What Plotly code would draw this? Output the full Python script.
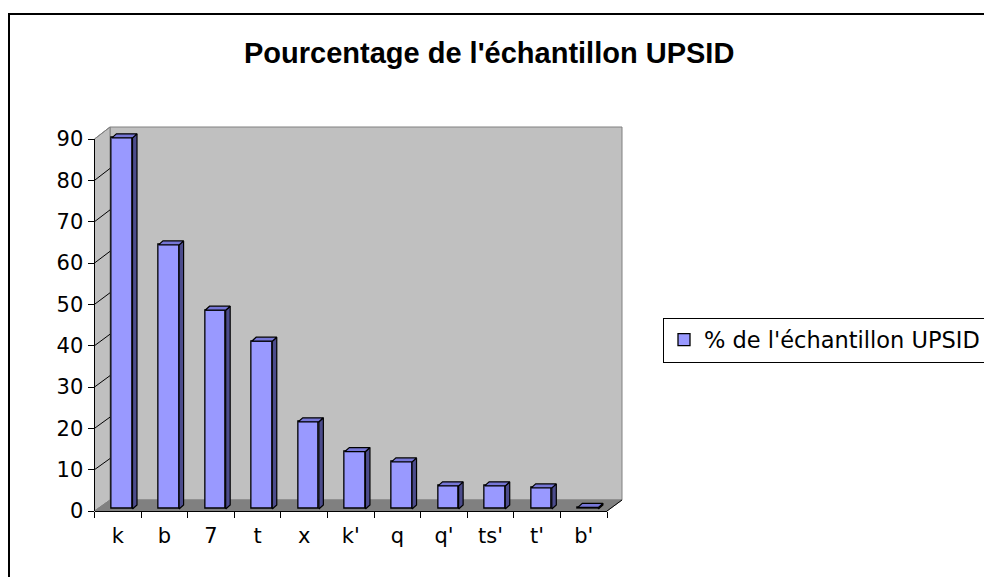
import plotly.graph_objects as go

# ---------------- data ----------------
categories = ["k", "b", "7", "t", "x", "k'", "q", "q'", "ts'", "t'", "b'"]
values = [89.8, 63.9, 48.1, 40.6, 21.1, 13.9, 11.4, 5.6, 5.6, 5.1, 0.4]
series_name = "% de l'échantillon UPSID"
title_text = "Pourcentage de l'échantillon UPSID"
y_ticks = [0, 10, 20, 30, 40, 50, 60, 70, 80, 90]

# ---------------- geometry (pixels) ----------------
W, H = 984, 577
FX0, FX1 = 94.5, 607.0      # front x axis extent
FY0 = 511.0                 # front y pixel for value 0
PXU = 4.133                 # pixels per unit
Y2MAX = 93.0                # front axis range top (room for 3D tops)
FY_TOP = FY0 - Y2MAX * PXU
BX0, BX1 = 110.0, 622.0     # back wall
BY0, BY1 = 500.0, 127.0     # back wall bottom (0) / top (90)
CAT_W = (FX1 - FX0) / len(categories)

BAR_SHIFT = 4.4 / CAT_W
BAR_W = 20.6 / CAT_W
DDX = 4.5 / CAT_W
DDY = 4.0 / PXU
BASE = 2.0 / PXU

def px(x):
    return x / W

def py(y):
    return 1 - y / H

FONT = "Liberation Sans, Arial, sans-serif"
LFONT = "DejaVu Sans, Verdana, sans-serif"
LSIZE = 21

fig = go.Figure()

xs = [i + BAR_SHIFT for i in range(len(categories))]

# front faces
fig.add_trace(go.Bar(
    x=xs, y=values, base=[BASE] * len(values), width=BAR_W,
    marker=dict(color="#9999FF", line=dict(color="black", width=1.3)),
    name=series_name, showlegend=True, xaxis="x2", yaxis="y2",
    hoverinfo="skip",
))

# side faces and tops built from the values
side_x, side_y, top_x, top_y = [], [], [], []
for x, v in zip(xs, values):
    xl = x - BAR_W / 2
    xr = x + BAR_W / 2
    t = BASE + v
    side_x += [xr, xr + DDX, xr + DDX, xr, xr, None]
    side_y += [BASE, BASE + DDY, t + DDY, t, BASE, None]
    top_x += [xl, xl + DDX, xr + DDX, xr, xl, None]
    top_y += [t, t + DDY, t + DDY, t, t, None]

fig.add_trace(go.Scatter(
    x=side_x, y=side_y, mode="lines", fill="toself", fillcolor="#4C4C8C",
    line=dict(color="black", width=1.2), showlegend=False, xaxis="x2", yaxis="y2",
    hoverinfo="skip",
))
fig.add_trace(go.Scatter(
    x=top_x, y=top_y, mode="lines", fill="toself", fillcolor="#7676D6",
    line=dict(color="black", width=1.2), showlegend=False, xaxis="x2", yaxis="y2",
    hoverinfo="skip",
))

shapes = []
# outer chart border
shapes.append(dict(type="rect", xref="paper", yref="paper",
                   x0=px(9), x1=1.05, y0=-0.05, y1=py(14),
                   line=dict(color="black", width=2), fillcolor="rgba(0,0,0,0)", layer="below"))
# back wall
shapes.append(dict(type="rect", xref="paper", yref="paper",
                   x0=px(BX0), x1=px(BX1), y0=py(BY0), y1=py(BY1),
                   fillcolor="#C0C0C0", line=dict(color="#808080", width=1), layer="below"))
# left wall
shapes.append(dict(type="path", xref="paper", yref="paper",
                   path=f"M {px(FX0)} {py(FY0)} L {px(FX0)} {py(FY0 - 90 * PXU)} L {px(BX0)} {py(BY1)} L {px(BX0)} {py(BY0)} Z",
                   fillcolor="#C0C0C0", line=dict(color="#808080", width=1), layer="below"))
# floor
shapes.append(dict(type="path", xref="paper", yref="paper",
                   path=f"M {px(FX0)} {py(FY0)} L {px(BX0)} {py(BY0)} L {px(BX1)} {py(BY0)} L {px(FX1)} {py(FY0)} Z",
                   fillcolor="#808080", line=dict(color="#808080", width=1), layer="below"))
# floor right edge
shapes.append(dict(type="line", xref="paper", yref="paper",
                   x0=px(FX1), y0=py(FY0), x1=px(BX1), y1=py(BY0),
                   line=dict(color="black", width=1)))
# left wall grid diagonals
bscale = (BY0 - BY1) / 90.0
for v in y_ticks[1:]:
    col = "#808080" if v == 90 else "black"
    shapes.append(dict(type="line", xref="paper", yref="paper",
                       x0=px(FX0), y0=py(FY0 - v * PXU), x1=px(BX0), y1=py(BY0 - v * bscale),
                       line=dict(color=col, width=1), layer="below"))
# front y axis line
shapes.append(dict(type="line", xref="paper", yref="paper",
                   x0=px(FX0), y0=py(FY0), x1=px(FX0), y1=py(FY0 - 90 * PXU),
                   line=dict(color="black", width=1)))

fig.update_layout(
    width=W, height=H,
    margin=dict(l=0, r=0, t=0, b=0, autoexpand=False),
    paper_bgcolor="white",
    plot_bgcolor="rgba(0,0,0,0)",
    font=dict(family=LFONT, color="black", size=LSIZE),
    shapes=shapes,
    showlegend=True,
    legend=dict(x=px(663), y=py(340), xanchor="left", yanchor="middle",
                bordercolor="black", borderwidth=1, bgcolor="white",
                font=dict(family=LFONT, size=22.5, color="black")),
    annotations=[dict(text=f"<b>{title_text}</b>", xref="paper", yref="paper",
                      x=px(489), y=py(53), xanchor="center", yanchor="middle",
                      showarrow=False, font=dict(family=FONT, size=29, color="black"))],
    # back wall axes (grid only)
    xaxis=dict(domain=[px(BX0), px(BX1)], range=[0, 1], visible=False, fixedrange=True),
    yaxis=dict(domain=[py(BY0), py(BY1)], range=[0, 90], tickvals=y_ticks,
               showgrid=True, gridcolor="black", gridwidth=1,
               showticklabels=False, ticks="", zeroline=False, showline=False,
               anchor="x", fixedrange=True),
    # front axes
    xaxis2=dict(domain=[px(FX0), px(FX1)], range=[-0.5, len(categories) - 0.5],
                tickvals=list(range(len(categories))), ticktext=categories,
                ticks="", showline=True, linecolor="black", linewidth=1,
                showgrid=False, zeroline=False, anchor="y2",
                ticklabelstandoff=6,
                minor=dict(tick0=-0.5, dtick=1, ticks="outside", ticklen=6,
                           tickcolor="black", showgrid=False),
                tickfont=dict(family=LFONT, size=LSIZE), fixedrange=True),
    yaxis2=dict(domain=[py(FY0), py(FY_TOP)], range=[0, Y2MAX],
                tickvals=y_ticks, ticks="outside", ticklen=6, tickcolor="black",
                showline=False, showgrid=False, zeroline=False, anchor="x2",
                tickfont=dict(family=LFONT, size=LSIZE), fixedrange=True),
    bargap=0,
)

fig.write_html("out.html", config={"displayModeBar": False},
               post_script="document.body.style.margin='0';")
